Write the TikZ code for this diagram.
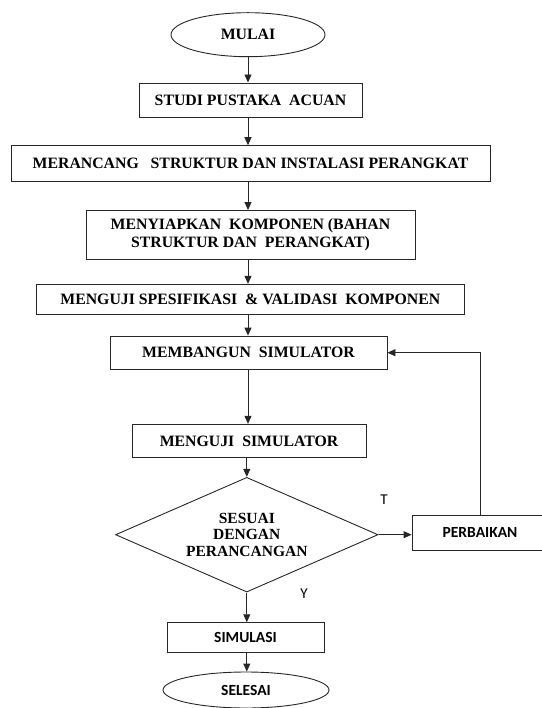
\documentclass[tikz,border=0pt]{standalone}
\usepackage{fontspec}
\setmainfont{Liberation Serif}
\newfontfamily\sansf{Carlito}
\usetikzlibrary{shapes.geometric,arrows.meta}
\begin{document}
\begin{tikzpicture}[x=1pt,y=-1pt,
  line/.style={draw=black!85, line width=0.9pt},
  arr/.style={line, -{Triangle[length=8pt,width=7pt]}},
  serifbox/.style={line, rectangle, inner sep=0pt, align=center,
    font=\bfseries\fontsize{15.8}{18}\selectfont},
  sansbox/.style={line, rectangle, inner sep=0pt, align=center,
    font=\sansf\bfseries\fontsize{15.5}{18}\selectfont},
  term/.style={line, ellipse, inner sep=0pt},
  lbl/.style={inner sep=0pt, font=\sansf\fontsize{15}{18}\selectfont}
]
\useasboundingbox (0,0) rectangle (541,708);

\node[term, minimum width=154pt, minimum height=44pt,
  font=\bfseries\fontsize{15.8}{18}\selectfont] (mulai) at (248,34.7) {MULAI};
\node[serifbox, minimum width=223pt, minimum height=34pt] (studi) at (250.5,100) {STUDI PUSTAKA\ \ ACUAN};
\node[serifbox, minimum width=479pt, minimum height=36pt] (rancang) at (250.5,163.7) {MERANCANG\ \ \ STRUKTUR\ DAN\ INSTALASI\ PERANGKAT};
\node[serifbox, minimum width=329pt, minimum height=49pt] (siapkan) at (250.5,235) {MENYIAPKAN\ \ KOMPONEN (BAHAN\\STRUKTUR DAN\ \ PERANGKAT)};
\node[serifbox, minimum width=428.5pt, minimum height=30pt] (spesifikasi) at (250.3,299.3) {MENGUJI SPESIFIKASI\ \ \& VALIDASI\ \ KOMPONEN};
\node[serifbox, minimum width=277pt, minimum height=33.3pt] (bangun) at (248.5,352.7) {MEMBANGUN\ \ SIMULATOR};
\node[serifbox, minimum width=234pt, minimum height=33.4pt] (uji) at (249,441) {MENGUJI\ \ SIMULATOR};
\node[line, diamond, inner sep=0pt, shape aspect=2.2, minimum width=262.5pt, minimum height=114.7pt,
  align=center, font=\bfseries\fontsize{15.5}{16.7}\selectfont] (sesuai) at (246.8,534.7) {SESUAI\\DENGAN\\PERANCANGAN};
\node[sansbox, minimum width=136pt, minimum height=34.7pt] (perbaikan) at (480,532.7) {PERBAIKAN};
\node[sansbox, minimum width=157pt, minimum height=29.6pt] (simulasi) at (245.5,637.5) {SIMULASI};
\node[term, minimum width=166pt, minimum height=36pt,
  font=\sansf\bfseries\fontsize{15.5}{18}\selectfont] (selesai) at (246,690) {SELESAI};

\node[lbl] (t) at (384,500) {T};
\node[lbl] (y) at (304,594) {Y};

\draw[arr] (mulai.south) -- (mulai.south |- studi.north);
\draw[arr] (mulai.south |- studi.south) -- (mulai.south |- rancang.north);
\draw[arr] (mulai.south |- rancang.south) -- (mulai.south |- siapkan.north);
\draw[arr] (mulai.south |- siapkan.south) -- (mulai.south |- spesifikasi.north);
\draw[arr] (mulai.south |- spesifikasi.south) -- (mulai.south |- bangun.north);
\draw[arr] (mulai.south |- bangun.south) -- (mulai.south |- uji.north);
\draw[arr] (sesuai.north |- uji.south) -- (sesuai.north);
\draw[arr] (sesuai.south) -- (sesuai.south |- simulasi.north);
\draw[arr] (sesuai.south |- simulasi.south) -- (sesuai.south |- selesai.north);
\draw[arr] (sesuai.east) -- (perbaikan.west |- sesuai.east);
\draw[arr] (perbaikan.north) -- (perbaikan.north |- bangun.east) -- (bangun.east);
\end{tikzpicture}
\end{document}
